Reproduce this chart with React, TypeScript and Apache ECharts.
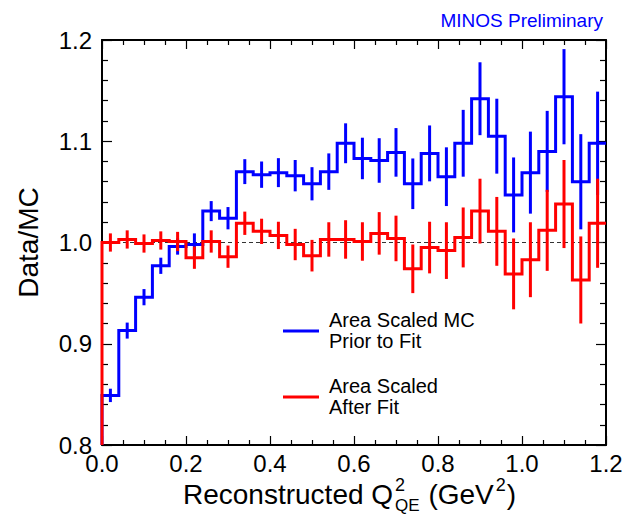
import React, { useEffect, useRef } from "react";
import * as echarts from "echarts";

// Histogram binning: 30 bins of 0.04 GeV^2 from 0 to 1.2
const BIN_WIDTH = 0.04;
const binEdges: number[] = Array.from({ length: 31 }, (_, i) => +(i * BIN_WIDTH).toFixed(2));

// Data/MC with area-scaled MC, before the fit
const priorVals = [
  0.849, 0.913, 0.946, 0.977, 0.996, 0.998, 1.031, 1.024, 1.070, 1.067,
  1.069, 1.066, 1.058, 1.070, 1.098, 1.083, 1.081, 1.089, 1.058, 1.088,
  1.065, 1.098, 1.142, 1.105, 1.047, 1.069, 1.090, 1.144, 1.060, 1.098,
];
const priorErrs = [
  0.0066, 0.0079, 0.008, 0.008, 0.008, 0.011, 0.0099, 0.011, 0.0123, 0.013,
  0.0143, 0.0155, 0.0164, 0.018, 0.0197, 0.0205, 0.022, 0.024, 0.025, 0.0276,
  0.029, 0.033, 0.036, 0.037, 0.037, 0.0405, 0.040, 0.047, 0.047, 0.051,
];

// Data/MC with area-scaled MC, after the fit
const afterVals = [
  1.000, 1.003, 0.999, 1.002, 1.001, 0.985, 1.001, 0.986, 1.019, 1.011,
  1.007, 0.998, 0.987, 1.003, 1.003, 1.001, 1.009, 1.004, 0.974, 0.995,
  0.992, 1.005, 1.031, 1.011, 0.969, 0.983, 1.012, 1.038, 0.963, 1.019,
];
const afterErrs = [
  0.009, 0.009, 0.009, 0.009, 0.0095, 0.011, 0.011, 0.011, 0.0115, 0.0125,
  0.0135, 0.0155, 0.0156, 0.017, 0.019, 0.019, 0.021, 0.0225, 0.024, 0.0255,
  0.028, 0.0296, 0.032, 0.034, 0.035, 0.037, 0.040, 0.0435, 0.043, 0.044,
];

const xTickLabels = ["0.0", "0.2", "0.4", "0.6", "0.8", "1.0", "1.2"];
const yTickLabels = ["0.8", "0.9", "1.0", "1.1", "1.2"];

const X_MIN = 0;
const X_MAX = 1.2;
const Y_MIN = 0.8;
const Y_MAX = 1.2;
const UNITY = 1.0;

const BLUE = "#0000ff";
const RED = "#ff0000";
const FONT = '"Liberation Sans", Arial, Helvetica, sans-serif';

function stepPoints(vals: number[]): number[][] {
  const pts: number[][] = [[binEdges[0], Y_MIN]];
  vals.forEach((v, i) => {
    pts.push([binEdges[i], v]);
    pts.push([binEdges[i + 1], v]);
  });
  return pts;
}

function errPoints(vals: number[], errs: number[]): number[][] {
  return vals.map((v, i) => [(binEdges[i] + binEdges[i + 1]) / 2, v, errs[i]]);
}

function measure(text: string, size: number): number {
  const ctx = document.createElement("canvas").getContext("2d");
  if (!ctx) return text.length * size * 0.55;
  ctx.font = `${size}px ${FONT}`;
  return ctx.measureText(text).width;
}

function errorBarSeries(name: string, vals: number[], errs: number[], color: string) {
  return {
    name,
    type: "custom",
    data: errPoints(vals, errs),
    z: 3,
    renderItem: (_params: any, api: any) => {
      const x = api.value(0);
      const y = api.value(1);
      const e = api.value(2);
      const lo = api.coord([x, y - e]);
      const hi = api.coord([x, y + e]);
      return {
        type: "line",
        shape: { x1: lo[0], y1: lo[1], x2: hi[0], y2: hi[1] },
        style: { stroke: color, lineWidth: 3 },
      };
    },
  };
}

function axisCommon(kind: "x" | "y", showLabels: boolean, position: string) {
  const isX = kind === "x";
  return {
    type: "value",
    position,
    min: isX ? X_MIN : Y_MIN,
    max: isX ? X_MAX : Y_MAX,
    interval: isX ? 0.2 : 0.1,
    axisLine: { show: true, onZero: false, lineStyle: { color: "#000", width: 2 } },
    axisTick: { show: true, inside: true, length: isX ? 9 : 10, lineStyle: { color: "#000", width: 1.2 } },
    minorTick: { show: true, splitNumber: isX ? 4 : 5, length: isX ? 5 : 6, lineStyle: { color: "#000", width: 1.2 } },
    splitLine: { show: false },
    axisLabel: {
      show: showLabels,
      fontSize: 24,
      lineHeight: 18,
      fontFamily: FONT,
      color: "#000",
      margin: isX ? 9 : 10,
      formatter: (v: number) => {
        const labels = isX ? xTickLabels : yTickLabels;
        const start = isX ? X_MIN : Y_MIN;
        const step = isX ? 0.2 : 0.1;
        return labels[Math.round((v - start) / step)] ?? "";
      },
    },
  };
}

export default function App() {
  const ref = useRef<HTMLDivElement>(null);

  useEffect(() => {
    if (!ref.current) return;
    const chart = echarts.init(ref.current, null, { renderer: "svg" });

    // x-axis title with stacked superscript/subscript on Q
    const titleSize = 28;
    const supSize = 18;
    const subSize = 17;
    const titleLeft = 183;
    const baseMid = 494;
    const supMid = 485;
    const subMid = 505;
    const t1 = "Reconstructed Q";
    const t3 = " (GeV";
    const w1 = measure(t1, titleSize);
    const xScript1 = titleLeft + w1 + 2;
    const wScript1 = Math.max(measure("2", supSize), measure("QE", subSize));
    const x3 = xScript1 + wScript1 + 1;
    const w3 = measure(t3, titleSize);
    const xScript2 = x3 + w3 + 2;
    const x5 = xScript2 + measure("2", supSize) + 1;
    const txt = (text: string, x: number, y: number, size: number, extra: any = {}) => ({
      type: "text",
      x,
      y,
      style: {
        text,
        fontSize: size,
        lineHeight: size,
        fontFamily: FONT,
        fill: "#000",
        verticalAlign: "middle",
        align: "left",
        ...extra,
      },
    });

    chart.setOption({
      animation: false,
      backgroundColor: "#fff",
      grid: { left: 102, right: 22, top: 40, bottom: 69, containLabel: false },
      xAxis: [axisCommon("x", true, "bottom"), axisCommon("x", false, "top")],
      yAxis: [
        {
          ...axisCommon("y", true, "left"),
          name: "Data/MC",
          nameLocation: "middle",
          nameRotate: 90,
          nameGap: 60,
          nameTextStyle: { fontSize: 28, fontFamily: FONT, color: "#000" },
        },
        axisCommon("y", false, "right"),
      ],
      series: [
        {
          name: "unity",
          type: "line",
          data: [[X_MIN, UNITY], [X_MAX, UNITY]],
          symbol: "none",
          lineStyle: { color: "#333", width: 1, type: [4, 3] },
          z: 1,
          silent: true,
        },
        {
          name: "Area Scaled MC Prior to Fit",
          type: "line",
          data: stepPoints(priorVals),
          symbol: "none",
          lineStyle: { color: BLUE, width: 3, join: "miter" },
          z: 2,
        },
        errorBarSeries("prior errors", priorVals, priorErrs, BLUE),
        {
          name: "Area Scaled After Fit",
          type: "line",
          data: stepPoints(afterVals),
          symbol: "none",
          lineStyle: { color: RED, width: 3, join: "miter" },
          z: 4,
        },
        { ...errorBarSeries("after errors", afterVals, afterErrs, RED), z: 5 },
      ],
      graphic: [
        txt("MINOS Preliminary", 603, 20, 19, { fill: BLUE, align: "right" }),
        // legend
        { type: "line", shape: { x1: 283, y1: 331, x2: 319, y2: 331 }, style: { stroke: BLUE, lineWidth: 3 } },
        txt("Area Scaled MC", 329, 319.5, 20),
        txt("Prior to Fit", 329, 340.5, 20),
        { type: "line", shape: { x1: 283, y1: 397, x2: 319, y2: 397 }, style: { stroke: RED, lineWidth: 3 } },
        txt("Area Scaled", 329, 385.5, 20),
        txt("After Fit", 329, 407, 20),
        // x-axis title
        txt(t1, titleLeft, baseMid, titleSize),
        txt("2", xScript1, supMid, supSize, { lineHeight: 12 }),
        txt("QE", xScript1, subMid, subSize, { lineHeight: 12 }),
        txt(t3, x3, baseMid, titleSize),
        txt("2", xScript2, supMid, supSize, { lineHeight: 12 }),
        txt(")", x5, baseMid, titleSize),
      ],
    });

    return () => chart.dispose();
  }, []);

  return (
    <div
      ref={ref}
      style={{ position: "fixed", left: 0, top: 0, width: 628, height: 514, background: "#fff" }}
    />
  );
}
